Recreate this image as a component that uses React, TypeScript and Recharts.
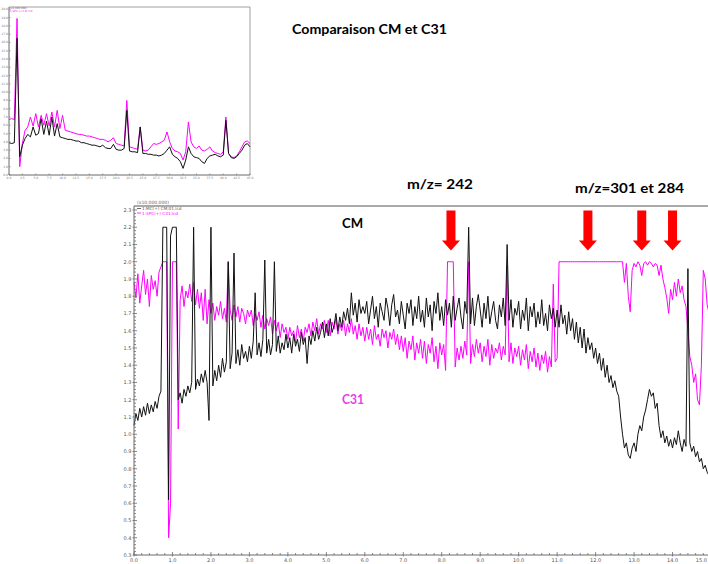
import React from 'react';
import { LineChart, Line, XAxis, YAxis, CartesianGrid, ReferenceLine, ReferenceDot } from 'recharts';

// Sampling interval of the detector traces (minutes)
const SAMPLE_STEP_MIN = 0.05;

// CM trace (x10,000,000), one value every 0.05 min from 0.0 to 15.0
const cmTrace = [
  1.05, 1.12, 1.08, 1.15, 1.10, 1.16, 1.11, 1.18, 1.12, 1.17,
  1.13, 1.19, 1.15, 1.22, 1.25, 2.20, 2.20, 2.20, 0.62, 2.15,
  2.20, 2.20, 2.20, 1.20, 1.24, 1.18, 1.26, 1.22, 1.28, 1.24,
  1.30, 2.20, 1.26, 1.32, 1.28, 1.35, 1.30, 1.37, 1.30, 1.08,
  2.20, 1.28, 1.37, 1.31, 1.40, 1.33, 1.44, 1.36, 1.42, 2.00,
  1.38, 1.47, 2.05, 1.41, 1.49, 1.40, 1.52, 1.44, 1.48, 1.42,
  1.51, 1.44, 1.54, 1.82, 1.46, 1.53, 1.45, 1.55, 2.01, 1.47,
  1.55, 1.46, 1.52, 2.00, 1.48, 1.57, 1.47, 1.53, 1.49, 1.58,
  1.50, 1.56, 1.47, 1.58, 1.51, 1.55, 1.48, 1.59, 1.52, 1.56,
  1.41, 1.57, 1.52, 1.60, 1.54, 1.62, 1.55, 1.59, 1.65, 1.56,
  1.64, 1.57, 1.67, 1.59, 1.63, 1.70, 1.60, 1.68, 1.62, 1.71,
  1.66, 1.73, 1.64, 1.82, 1.69, 1.76, 1.65, 1.78, 1.70, 1.74,
  1.70, 1.77, 1.64, 1.72, 1.80, 1.67, 1.74, 1.62, 1.76, 1.71,
  1.66, 1.79, 1.73, 1.63, 1.75, 1.81, 1.68, 1.72, 1.64, 1.77,
  1.69, 1.61, 1.76, 1.70, 1.78, 1.63, 1.74, 1.67, 1.80, 1.65,
  1.72, 1.62, 1.79, 1.68, 1.75, 1.60, 1.77, 1.70, 1.82, 1.66,
  1.74, 1.63, 1.78, 1.69, 1.76, 1.62, 1.80, 1.66, 1.73, 1.79,
  1.68, 1.61, 1.77, 1.70, 2.20, 1.64, 1.79, 1.63, 1.74, 1.81,
  1.72, 1.62, 1.76, 1.67, 1.80, 1.64, 1.71, 1.77, 1.66, 1.61,
  1.75, 1.68, 1.79, 1.63, 2.10, 1.66, 1.78, 1.62, 1.73, 1.69,
  1.77, 1.61, 1.72, 1.66, 1.79, 1.60, 1.74, 1.68, 1.76, 1.62,
  1.71, 1.64, 1.78, 1.63, 1.70, 1.60, 1.75, 1.67, 1.73, 1.62,
  1.72, 1.62, 1.75, 1.64, 1.69, 1.58, 1.71, 1.60, 1.67, 1.55,
  1.65, 1.53, 1.62, 1.50, 1.61, 1.47, 1.56, 1.49, 1.53, 1.44,
  1.50, 1.41, 1.47, 1.37, 1.44, 1.33, 1.40, 1.30, 1.34, 1.27,
  1.31, 1.25, 1.22, 1.10, 1.00, 0.92, 0.95, 0.88, 0.86, 0.92,
  0.95, 0.90, 1.00, 1.05, 1.02, 1.10, 1.14, 1.20, 1.26, 1.22,
  1.24, 1.15, 1.18, 1.05, 0.98, 1.02, 0.95, 0.99, 0.93, 0.97,
  0.92, 0.98, 0.94, 1.02, 0.95, 0.90, 0.97, 0.93, 1.96, 0.95,
  0.90, 0.93, 0.87, 0.90, 0.84, 0.86, 0.80, 0.82, 0.78, 0.76, 0.75,
];

// C31 trace (x10,000,000), same sampling
const c31Trace = [
  1.88, 1.79, 1.93, 1.76, 1.86, 1.95, 1.81, 1.90, 1.74, 1.92,
  1.84, 1.89, 1.80, 1.94, 1.97, 2.00, 2.00, 2.00, 0.40, 0.60,
  2.00, 2.00, 2.00, 1.03, 1.78, 1.86, 1.74, 1.83, 1.79, 1.87,
  1.77, 1.88, 1.75, 1.84, 1.73, 1.82, 1.66, 1.84, 1.64, 1.78,
  1.70, 1.76, 1.66, 1.74, 1.69, 1.77, 1.67, 1.73, 1.65, 2.00,
  1.72, 1.66, 1.75, 1.68, 1.74, 1.65, 1.73, 1.70, 1.64, 1.72,
  1.68, 1.72, 1.63, 1.70, 1.66, 1.71, 1.62, 1.69, 1.61, 1.67,
  1.63, 1.68, 1.58, 1.66, 1.60, 1.65, 1.56, 1.64, 1.59, 1.62,
  1.55, 1.62, 1.57, 1.60, 1.53, 1.63, 1.56, 1.61, 1.54, 1.62,
  1.59, 1.64, 1.57, 1.65, 1.60, 1.67, 1.58, 1.64, 1.61, 1.66,
  1.59, 1.66, 1.57, 1.65, 1.61, 1.67, 1.58, 1.64, 1.60, 1.66,
  1.57, 1.64, 1.59, 1.67, 1.58, 1.63, 1.55, 1.64, 1.57, 1.62,
  1.54, 1.62, 1.55, 1.61, 1.52, 1.63, 1.55, 1.58, 1.51, 1.61,
  1.56, 1.60, 1.50, 1.59, 1.55, 1.61, 1.52, 1.58, 1.49, 1.57,
  1.48, 1.56, 1.44, 1.54, 1.49, 1.57, 1.43, 1.53, 1.47, 1.55,
  1.44, 1.54, 1.41, 1.52, 1.47, 1.56, 1.42, 1.51, 1.38, 1.53,
  1.46, 1.52, 1.37, 2.00, 2.00, 2.00, 2.00, 1.39, 1.50, 1.43,
  1.51, 1.44, 1.54, 1.46, 2.00, 1.41, 1.52, 1.45, 1.55, 1.47,
  1.53, 1.42, 1.51, 1.45, 1.55, 1.40, 1.52, 1.44, 1.50, 1.47,
  1.53, 1.43, 1.51, 1.46, 1.98, 1.42, 1.53, 1.41, 1.50, 1.45,
  1.51, 1.40, 1.49, 1.43, 1.52, 1.38, 1.48, 1.42, 1.50, 1.39,
  1.47, 1.37, 1.46, 1.41, 1.48, 1.36, 1.45, 1.39, 1.87, 1.42,
  1.44, 2.00, 2.00, 2.00, 2.00, 2.00, 2.00, 2.00, 2.00, 2.00,
  2.00, 2.00, 2.00, 2.00, 2.00, 2.00, 2.00, 2.00, 2.00, 2.00,
  2.00, 2.00, 2.00, 2.00, 2.00, 2.00, 2.00, 2.00, 2.00, 2.00,
  2.00, 2.00, 2.00, 2.00, 2.00, 1.88, 1.99, 1.80, 1.71, 1.95,
  1.99, 1.97, 2.00, 1.98, 1.92, 1.99, 2.00, 1.98, 2.00, 1.99,
  1.97, 1.99, 1.98, 1.92, 1.98, 1.90, 1.85, 1.79, 1.70, 1.84,
  1.78, 1.88, 1.80, 1.90, 1.82, 1.86, 1.78, 1.74, 1.60, 1.45,
  1.40, 1.30, 1.35, 1.20, 1.17, 1.40, 1.95, 1.90, 1.75, 1.70, 1.70,
];

// Full-run overview (top-left panel), one value every 0.5 min from 0 to 45
const OVERVIEW_STEP_MIN = 0.5;
const overviewCm = [
  3.9, 3.8, 3.9, 16.5, 2.2, 3.6, 4.4, 4.9, 4.6, 5.8,
  4.8, 5.0, 6.8, 4.9, 6.5, 4.8, 7.0, 4.7, 6.2, 4.6,
  4.5, 4.4, 4.3, 4.3, 4.2, 4.1, 4.1, 3.9, 3.9, 3.8,
  3.7, 3.6, 3.6, 3.5, 3.4, 3.6, 3.3, 3.2, 3.2, 3.7,
  3.1, 3.0, 3.0, 3.2, 7.8, 2.9, 2.8, 2.8, 2.7, 5.8,
  2.6, 2.6, 2.5, 2.5, 2.4, 2.4, 2.3, 2.4, 2.6, 3.0,
  3.4, 2.5, 2.2, 2.0, 1.6, 0.8, 1.8, 3.4, 2.6, 2.2,
  2.1, 2.0, 1.6, 1.4, 2.0, 2.3, 2.4, 2.5, 2.3, 2.2,
  2.4, 6.6, 2.6, 2.1, 2.0, 2.2, 2.6, 3.0, 3.6, 3.8, 3.4,
];
const overviewC31 = [
  6.7, 6.8, 6.7, 18.9, 1.0, 3.8, 5.4, 5.8, 7.0, 5.9,
  7.4, 5.8, 7.2, 6.0, 7.4, 5.9, 7.6, 5.8, 7.8, 5.6,
  7.2, 5.4, 5.3, 5.2, 5.1, 5.0, 4.9, 4.9, 4.8, 4.7,
  4.7, 4.6, 4.5, 4.4, 4.3, 4.3, 4.2, 4.0, 4.2, 4.5,
  3.8, 3.7, 3.6, 3.5, 9.0, 3.4, 3.3, 3.2, 3.1, 5.8,
  3.0, 2.9, 3.0, 3.4, 3.8, 3.7, 3.8, 4.0, 4.2, 5.2,
  4.0, 3.2, 2.9, 2.8, 2.6, 1.8, 2.8, 6.4, 4.0, 3.4,
  3.2, 3.5, 3.0, 2.9, 3.1, 3.4, 2.9, 2.7, 2.6, 2.5,
  2.8, 7.0, 2.6, 2.2, 2.1, 2.3, 2.8, 3.4, 4.0, 4.1, 3.8,
];

// Axis tick labels
const mainXTicks = [0, 1, 2, 3, 4, 5, 6, 7, 8, 9, 10, 11, 12, 13, 14, 15];
const mainYTicks = [0.3, 0.4, 0.5, 0.6, 0.7, 0.8, 0.9, 1.0, 1.1, 1.2, 1.3, 1.4, 1.5, 1.6, 1.7, 1.8, 1.9, 2.0, 2.1, 2.2, 2.3];
const overviewXTicks = [0, 2.5, 5, 7.5, 10, 12.5, 15, 17.5, 20, 22.5, 25, 27.5, 30, 32.5, 35, 37.5, 40, 42.5, 45];
const overviewYTicks = [0, 1, 2, 3, 4, 5, 6, 7, 8, 9, 10, 11, 12, 13, 14, 15, 16, 17, 18, 19, 20];

// Retention times flagged with arrows (m/z 242, then m/z 301 and 284)
const flaggedTimes = [8.24, 11.8, 13.2, 14.0];
const ARROW_TIP_LEVEL = 2.065;

const CM_COLOR = '#111111';
const C31_COLOR = '#ff00ff';
const GRID_COLOR = '#c4c4c4';
const AXIS_COLOR = '#6a6a6a';
const LABEL_FONT = 'Lato, "Open Sans", sans-serif';
const TICK_FONT = '"DejaVu Sans", sans-serif';
const VIEW_WIDTH = 708;

const mainRows = cmTrace.map((v, i) => ({
  t: Math.round(i * SAMPLE_STEP_MIN * 100) / 100,
  cm: v,
  c31: c31Trace[i],
}));

const overviewRows = overviewCm.map((v, i) => ({
  t: i * OVERVIEW_STEP_MIN,
  cm: v,
  c31: overviewC31[i],
}));

// Minor ticks: five per labelled x interval, five per labelled y interval
const mainXAllTicks: number[] = [];
mainXTicks.slice(0, -1).forEach((v) => {
  for (let k = 0; k < 5; k++) mainXAllTicks.push(Math.round((v + k * 0.2) * 100) / 100);
});
mainXAllTicks.push(mainXTicks[mainXTicks.length - 1]);

const mainYAllTicks: number[] = [];
mainYTicks.slice(0, -1).forEach((v) => {
  for (let k = 0; k < 5; k++) mainYAllTicks.push(Math.round((v + k * 0.02) * 1000) / 1000);
});
mainYAllTicks.push(mainYTicks[mainYTicks.length - 1]);

const isMajor = (v: number, unit: number) => Math.abs(v / unit - Math.round(v / unit)) < 1e-6;

const MainXTick = (props: any) => {
  const { x, y, payload } = props;
  const v = payload.value as number;
  const major = isMajor(v, 1);
  // the last label would run past the window edge, so it hugs the edge instead
  const atEdge = x + 6 > VIEW_WIDTH;
  return (
    <g>
      <line x1={x} x2={x} y1={y - (major ? 3 : 2)} y2={y + (major ? 1.5 : 0)} stroke={AXIS_COLOR} strokeWidth={0.8} />
      {major && (
        <text
          x={atEdge ? VIEW_WIDTH - 1 : x}
          y={y + 7}
          textAnchor={atEdge ? 'end' : 'middle'}
          fontSize={5}
          fill="#555"
          fontFamily={TICK_FONT}
        >
          {v.toFixed(1)}
        </text>
      )}
    </g>
  );
};

const MainYTick = (props: any) => {
  const { x, y, payload } = props;
  const v = payload.value as number;
  const major = isMajor(v, 0.1);
  return (
    <g>
      <line x1={x - (major ? 1.5 : 0)} x2={x + (major ? 3 : 2)} y1={y} y2={y} stroke={AXIS_COLOR} strokeWidth={0.8} />
      {major && (
        <text x={x - 2.5} y={y + 1.8} textAnchor="end" fontSize={5} fill="#555" fontFamily={TICK_FONT}>
          {v.toFixed(1)}
        </text>
      )}
    </g>
  );
};

const OverviewXTick = (props: any) => {
  const { x, y, payload } = props;
  return (
    <g>
      <line x1={x} x2={x} y1={y - 1.5} y2={y} stroke={AXIS_COLOR} strokeWidth={0.6} />
      <text x={x} y={y + 4} textAnchor="middle" fontSize={3} fill="#777" fontFamily={TICK_FONT}>
        {(payload.value as number).toFixed(1)}
      </text>
    </g>
  );
};

const OverviewYTick = (props: any) => {
  const { x, y, payload } = props;
  return (
    <g>
      <line x1={x} x2={x + 1.5} y1={y} y2={y} stroke={AXIS_COLOR} strokeWidth={0.6} />
      <text x={x - 1} y={y + 1} textAnchor="end" fontSize={3} fill="#777" fontFamily={TICK_FONT}>
        {(payload.value as number).toFixed(1)}
      </text>
    </g>
  );
};

// Red down-pointing arrow whose tip sits at (cx, cy)
const DownArrow = (props: any) => {
  const { cx, cy } = props;
  if (cx == null || cy == null) return null;
  const pts = [
    [cx - 4.5, cy - 40],
    [cx + 4.5, cy - 40],
    [cx + 4.5, cy - 10],
    [cx + 9, cy - 10],
    [cx, cy],
    [cx - 9, cy - 10],
    [cx - 4.5, cy - 10],
  ]
    .map((p) => p.join(','))
    .join(' ');
  return <polygon points={pts} fill="#ff0000" />;
};

const gridX = (ticks: number[]) => (args: any) => {
  const axis = args && args.xAxis;
  if (!axis || typeof axis.scale !== 'function') return [];
  return ticks.map((v) => axis.scale(v));
};
const gridY = (ticks: number[]) => (args: any) => {
  const axis = args && args.yAxis;
  if (!axis || typeof axis.scale !== 'function') return [];
  return ticks.map((v) => axis.scale(v));
};

export default function App() {
  return (
    <div
      style={{
        position: 'fixed',
        left: 0,
        top: 0,
        width: VIEW_WIDTH,
        height: 564,
        overflow: 'hidden',
        background: '#ffffff',
      }}
    >
      {/* Zoomed comparison, 0-15 min */}
      <div style={{ position: 'absolute', left: 0, top: 0 }}>
        <LineChart width={740} height={564} data={mainRows} margin={{ top: 206, right: 29, bottom: 0, left: 110 }}>
          <CartesianGrid
            stroke={GRID_COLOR}
            strokeDasharray="1 2"
            verticalCoordinatesGenerator={gridX(mainXTicks)}
            horizontalCoordinatesGenerator={gridY(mainYTicks)}
          />
          <XAxis
            dataKey="t"
            type="number"
            domain={[0, 15]}
            ticks={mainXAllTicks}
            interval={0}
            tickLine={false}
            tickSize={0}
            tickMargin={0}
            height={9}
            axisLine={{ stroke: AXIS_COLOR }}
            tick={(p: any) => <MainXTick {...p} />}
          />
          <YAxis
            type="number"
            domain={[0.3, 2.323]}
            ticks={mainYAllTicks}
            interval={0}
            tickLine={false}
            tickSize={0}
            tickMargin={0}
            width={24}
            axisLine={{ stroke: AXIS_COLOR }}
            tick={(p: any) => <MainYTick {...p} />}
          />
          <ReferenceLine y={2.323} stroke="#555" strokeWidth={1} ifOverflow="visible" />
          <Line type="linear" dataKey="c31" stroke={C31_COLOR} strokeWidth={1} dot={false} isAnimationActive={false} />
          <Line type="linear" dataKey="cm" stroke={CM_COLOR} strokeWidth={1} dot={false} isAnimationActive={false} />
          {flaggedTimes.map((t) => (
            <ReferenceDot
              key={t}
              x={t}
              y={ARROW_TIP_LEVEL}
              r={1}
              ifOverflow="visible"
              shape={(p: any) => <DownArrow {...p} />}
            />
          ))}
        </LineChart>
      </div>

      {/* Full-run overview panel */}
      <div style={{ position: 'absolute', left: 0, top: 0 }}>
        <LineChart width={260} height={182} data={overviewRows} margin={{ top: 7, right: 10, bottom: 0, left: 1 }}>
          <CartesianGrid
            stroke={GRID_COLOR}
            strokeDasharray="1 1.5"
            verticalCoordinatesGenerator={gridX(overviewXTicks)}
            horizontalCoordinatesGenerator={gridY(overviewYTicks)}
          />
          <XAxis
            dataKey="t"
            type="number"
            domain={[0, 45]}
            ticks={overviewXTicks}
            interval={0}
            tickLine={false}
            tickSize={0}
            tickMargin={0}
            height={7}
            axisLine={{ stroke: AXIS_COLOR }}
            tick={(p: any) => <OverviewXTick {...p} />}
          />
          <YAxis
            type="number"
            domain={[0, 20.28]}
            ticks={overviewYTicks}
            interval={0}
            tickLine={false}
            tickSize={0}
            tickMargin={0}
            width={8}
            axisLine={{ stroke: AXIS_COLOR }}
            tick={(p: any) => <OverviewYTick {...p} />}
          />
          <ReferenceLine y={20.28} stroke="#888" strokeWidth={0.8} ifOverflow="visible" />
          <ReferenceLine x={45} stroke="#888" strokeWidth={0.8} ifOverflow="visible" />
          <Line type="linear" dataKey="c31" stroke={C31_COLOR} strokeWidth={1} dot={false} isAnimationActive={false} />
          <Line type="linear" dataKey="cm" stroke={CM_COLOR} strokeWidth={1} dot={false} isAnimationActive={false} />
        </LineChart>
      </div>

      {/* Titles, annotations and trace legends */}
      <svg
        width={VIEW_WIDTH}
        height={564}
        style={{ position: 'absolute', left: 0, top: 0, pointerEvents: 'none' }}
      >
        <text x={10} y={9} fontSize={2.6} fill="#666" fontFamily={TICK_FONT}>(x1,000,000)</text>
        <text x={10} y={11.6} fontSize={2.6} fill={C31_COLOR} fontFamily={TICK_FONT}>1:SPC(+) C31.lcd</text>

        <text x={292} y={34} fontSize={14} fontWeight={700} fill="#000" fontFamily={LABEL_FONT} textLength={155} lengthAdjust="spacingAndGlyphs">
          Comparaison CM et C31
        </text>
        <text x={407} y={188.5} fontSize={14} fontWeight={700} fill="#000" fontFamily={LABEL_FONT} textLength={66} lengthAdjust="spacingAndGlyphs">
          m/z= 242
        </text>
        <text x={575} y={192.5} fontSize={14} fontWeight={700} fill="#000" fontFamily={LABEL_FONT} textLength={109} lengthAdjust="spacingAndGlyphs">
          m/z=301 et 284
        </text>
        <text x={342} y={228} fontSize={14} fontWeight={700} fill="#000" fontFamily={LABEL_FONT} textLength={21} lengthAdjust="spacingAndGlyphs">
          CM
        </text>
        <text x={342} y={404} fontSize={14} fontWeight={700} fill="#e83ee8" fontFamily={LABEL_FONT} textLength={22} lengthAdjust="spacingAndGlyphs">
          C31
        </text>

        <text x={137} y={203.5} fontSize={4.5} fill="#666" fontFamily={TICK_FONT}>(x10,000,000)</text>
        <line x1={137} x2={141} y1={208.5} y2={208.5} stroke="#444" strokeWidth={0.8} />
        <text x={142} y={210} fontSize={4.2} fill="#555" fontFamily={TICK_FONT}>1:MC(+) CM.01.lcd</text>
        <line x1={137} x2={141} y1={213} y2={213} stroke={C31_COLOR} strokeWidth={0.8} />
        <text x={142} y={214.5} fontSize={4.2} fill={C31_COLOR} fontFamily={TICK_FONT}>1:SPC(+) C31.lcd</text>
      </svg>
    </div>
  );
}
